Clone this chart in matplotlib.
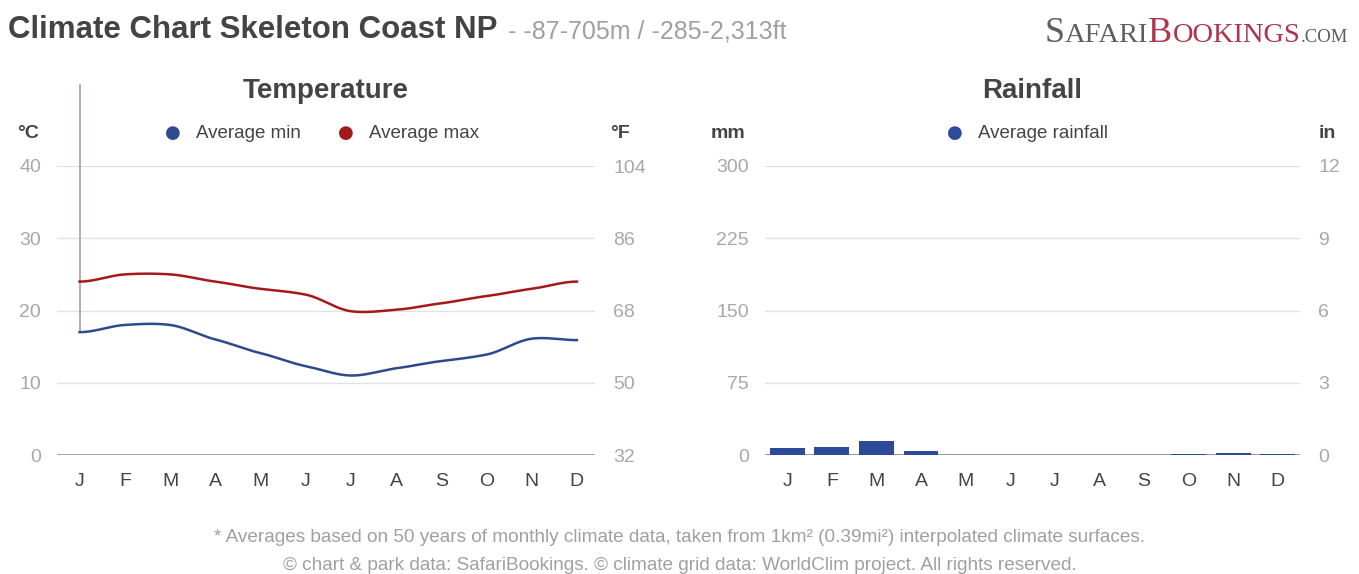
import numpy as np
import matplotlib
matplotlib.use("Agg")
import matplotlib.pyplot as plt

plt.rcParams["font.family"] = ["Liberation Sans", "DejaVu Sans"]

MONTHS = ["J", "F", "M", "A", "M", "J", "J", "A", "S", "O", "N", "D"]
TEMP_MIN = [17, 18, 18, 16, 14.1, 12.3, 11, 12, 13, 13.9, 16.1, 15.9]
TEMP_MAX = [24, 25, 25, 24, 23, 22.2, 19.9, 20.1, 21, 22, 23, 24]
RAIN_MM = [7.6, 8.6, 14.9, 4.2, 0.3, 0.2, 0.2, 0.2, 0.3, 1.0, 2.0, 1.0]

C_TICK = "#a8a8a8"
C_DARK = "#444444"
C_GRID = "#e2e2e2"
C_MIN = "#2f4a8c"
C_MAX = "#a3191c"
C_BAR = "#2b4a98"


def smooth(y, n=20):
    # cardinal spline through the monthly points, only for drawing
    y = np.asarray(y, dtype=float)
    x = np.arange(len(y), dtype=float)
    m = np.zeros_like(y)
    m[1:-1] = (y[2:] - y[:-2]) / 2 * 0.8
    xs, ys = [], []
    for i in range(len(y) - 1):
        t = np.linspace(0, 1, n, endpoint=False)
        h00 = 2 * t**3 - 3 * t**2 + 1
        h10 = t**3 - 2 * t**2 + t
        h01 = -2 * t**3 + 3 * t**2
        h11 = t**3 - t**2
        xs.append(x[i] + t)
        ys.append(h00 * y[i] + h10 * m[i] + h01 * y[i + 1] + h11 * m[i + 1])
    xs.append([x[-1]])
    ys.append([y[-1]])
    return np.concatenate(xs), np.concatenate(ys)


def style_axes(ax, ticks, ylim, xlim):
    ax.set_xlim(*xlim)
    ax.set_ylim(*ylim)
    ax.set_yticks(ticks)
    ax.set_xticks(range(12))
    ax.set_xticklabels(MONTHS)
    for s in ax.spines.values():
        s.set_visible(False)
    ax.tick_params(axis="y", length=0, labelsize=14, labelcolor=C_TICK, pad=11.5)
    ax.tick_params(axis="x", length=0, labelsize=14, labelcolor=C_DARK, pad=13)
    for t in ticks[1:]:
        ax.axhline(t, color=C_GRID, lw=1, zorder=0)


def right_axis(ax, ticks):
    axr = ax.twinx()
    axr.set_ylim(ticks[0], ticks[-1])
    axr.set_yticks(ticks)
    for s in axr.spines.values():
        s.set_visible(False)
    axr.tick_params(axis="y", length=0, labelsize=14, labelcolor=C_TICK, pad=13)
    return axr


fig = plt.figure(figsize=(13.59, 5.74), dpi=100)

# ---------------- Temperature ----------------
ax1 = fig.add_axes([57 / 1359, 1 - 455 / 574, 538 / 1359, 289 / 574])
style_axes(ax1, [0, 10, 20, 30, 40], (0, 40), (-0.5, 11.4))
ax1.axhline(0, color="#9a9a9a", lw=1.2, zorder=1)
xs, ys = smooth(TEMP_MAX)
ax1.plot(xs, ys, color=C_MAX, lw=1.8, zorder=3)
xs, ys = smooth(TEMP_MIN)
ax1.plot(xs, ys, color=C_MIN, lw=1.8, zorder=3)
ax1.plot([0, 0], [TEMP_MIN[0], 51.2], color="#b39c92", lw=1.2, clip_on=False, zorder=2)
right_axis(ax1, [32, 50, 68, 86, 104])

# ---------------- Rainfall ----------------
ax2 = fig.add_axes([765 / 1359, 1 - 455 / 574, 535 / 1359, 289 / 574])
style_axes(ax2, [0, 75, 150, 225, 300], (0, 300), (-0.5, 11.5))
ax2.bar(range(12), RAIN_MM, width=0.78, color=C_BAR, zorder=3)
ax2.axhline(0, color="#7d8699", lw=1.2, zorder=2)
right_axis(ax2, [0, 3, 6, 9, 12])

# ---------------- Texts ----------------
W, H = 1359, 574


def px(x, y):
    return x / W, 1 - y / H


fig.text(*px(8, 30), "Climate Chart Skeleton Coast NP", fontsize=22.5, fontweight="bold",
         color=C_DARK, va="center", ha="left")
fig.text(*px(508, 31), "- -87-705m / -285-2,313ft", fontsize=18, color="#a0a0a0",
         va="center", ha="left")

# logo (small caps)
logo = [("S", 26, "#5e5e5e"), ("AFARI", 20.5, "#5e5e5e"),
        ("B", 26, "#b0354a"), ("OOKINGS", 20.5, "#b0354a"), (".COM", 13.5, "#5e5e5e")]
lx = 1045
renderer = fig.canvas.get_renderer()
for txt, fs, col in logo:
    t = fig.text(*px(lx, 42), txt, fontsize=fs, color=col, family="Liberation Serif",
                 va="baseline", ha="left")
    lx += t.get_window_extent(renderer=renderer).width

fig.text(*px(326, 91), "Temperature", fontsize=20, fontweight="bold", color=C_DARK,
         ha="center", va="center")
fig.text(*px(1032, 91), "Rainfall", fontsize=20, fontweight="bold", color=C_DARK,
         ha="center", va="center")

for ux, lab in [(28, "°C"), (620, "°F"), (728, "mm"), (1327, "in")]:
    fig.text(*px(ux, 134), lab, fontsize=14, fontweight="bold", color=C_DARK,
             ha="center", va="center")

legend_items = [(173, C_MIN, "Average min"), (346, C_MAX, "Average max"),
                (955, C_BAR, "Average rainfall")]
for mx, col, lab in legend_items:
    fig.text(*px(mx, 133), "●", fontsize=13, color=col, ha="center", va="center",
             family="DejaVu Sans")
    fig.text(*px(mx + 23, 134), lab, fontsize=13.5, color=C_DARK, ha="left", va="center")

fig.text(*px(680, 538), "* Averages based on 50 years of monthly climate data, taken from 1km² "
         "(0.39mi²) interpolated climate surfaces.", fontsize=13.7, color="#a0a0a0",
         ha="center", va="center")
fig.text(*px(680, 565), "© chart & park data: SafariBookings. © climate grid data: "
         "WorldClim project. All rights reserved.", fontsize=13.7, color="#a0a0a0",
         ha="center", va="center")

fig.savefig("out.png", dpi=100)
